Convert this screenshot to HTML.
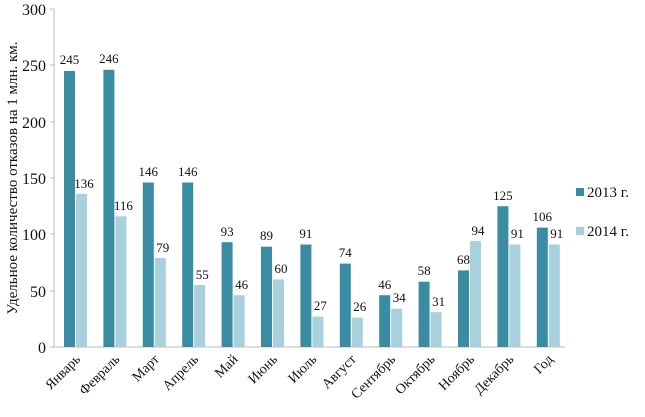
<!DOCTYPE html><html><head><style>body{margin:0;background:#fff}svg{display:block}text{font-family:"Liberation Serif",serif;fill:#111}</style></head><body>
<svg width="645" height="417" viewBox="0 0 645 417">
<line x1="54" y1="9" x2="54" y2="347" stroke="#bbb"/>
<line x1="50" y1="347" x2="565" y2="347" stroke="#bbb"/>
<g font-size="16" text-anchor="end">
<text x="46" y="353">0</text><text x="46" y="297">50</text><text x="46" y="240">100</text><text x="46" y="184">150</text><text x="46" y="128">200</text><text x="46" y="71">250</text><text x="46" y="15">300</text></g>
<g stroke="#bbb"><line x1="50" y1="291" x2="54" y2="291"/><line x1="50" y1="234" x2="54" y2="234"/><line x1="50" y1="178" x2="54" y2="178"/><line x1="50" y1="122" x2="54" y2="122"/><line x1="50" y1="65" x2="54" y2="65"/><line x1="50" y1="9" x2="54" y2="9"/></g>
<text transform="translate(17,178) rotate(-90)" font-size="15" text-anchor="middle">Удельное количество отказов на 1 млн. км.</text>
<g fill="#3a8ca3">
<rect x="64" y="71" width="11" height="276"/>
<rect x="103.4" y="69.8" width="11" height="277.2"/>
<rect x="142.8" y="182.5" width="11" height="164.5"/>
<rect x="182.2" y="182.5" width="11" height="164.5"/>
<rect x="221.6" y="242.2" width="11" height="104.8"/>
<rect x="261" y="246.7" width="11" height="100.3"/>
<rect x="300.4" y="244.5" width="11" height="102.5"/>
<rect x="339.8" y="263.6" width="11" height="83.4"/>
<rect x="379.2" y="295.2" width="11" height="51.8"/>
<rect x="418.6" y="281.7" width="11" height="65.3"/>
<rect x="458" y="270.4" width="11" height="76.6"/>
<rect x="497.4" y="206.2" width="11" height="140.8"/>
<rect x="536.8" y="227.6" width="11" height="119.4"/>
</g>
<g fill="#a8d0dd">
<rect x="76" y="193.8" width="11" height="153.2"/>
<rect x="115.4" y="216.3" width="11" height="130.7"/>
<rect x="154.8" y="258" width="11" height="89"/>
<rect x="194.2" y="285" width="11" height="62"/>
<rect x="233.6" y="295.2" width="11" height="51.8"/>
<rect x="273" y="279.4" width="11" height="67.6"/>
<rect x="312.4" y="316.6" width="11" height="30.4"/>
<rect x="351.8" y="317.7" width="11" height="29.3"/>
<rect x="391.2" y="308.7" width="11" height="38.3"/>
<rect x="430.6" y="312.1" width="11" height="34.9"/>
<rect x="470" y="241.1" width="11" height="105.9"/>
<rect x="509.4" y="244.5" width="11" height="102.5"/>
<rect x="548.8" y="244.5" width="11" height="102.5"/>
</g>
<g font-size="13" text-anchor="middle">
<text x="69.5" y="64">245</text><text x="108.9" y="63">246</text><text x="148.3" y="176">146</text><text x="187.7" y="176">146</text><text x="227.1" y="236">93</text><text x="266.5" y="240">89</text><text x="305.9" y="238">91</text><text x="345.3" y="257">74</text><text x="384.7" y="289">46</text><text x="424.1" y="275">58</text><text x="463.5" y="264">68</text><text x="502.9" y="200">125</text><text x="542.3" y="221">106</text>
<text x="84" y="188">136</text><text x="123.4" y="210">116</text><text x="162.8" y="252">79</text><text x="202.2" y="279">55</text><text x="241.6" y="289">46</text><text x="281" y="273">60</text><text x="320.4" y="310">27</text><text x="359.8" y="311">26</text><text x="399.2" y="302">34</text><text x="438.6" y="306">31</text><text x="478" y="235">94</text><text x="517.4" y="238">91</text><text x="556.8" y="238">91</text>
</g>
<g font-size="14" text-anchor="end">
<text transform="translate(81,360) rotate(-45)">Январь</text>
<text transform="translate(120.4,360) rotate(-45)">Февраль</text>
<text transform="translate(159.8,360) rotate(-45)">Март</text>
<text transform="translate(199.2,360) rotate(-45)">Апрель</text>
<text transform="translate(238.6,360) rotate(-45)">Май</text>
<text transform="translate(278,360) rotate(-45)">Июнь</text>
<text transform="translate(317.4,360) rotate(-45)">Июль</text>
<text transform="translate(356.8,360) rotate(-45)">Август</text>
<text transform="translate(396.2,360) rotate(-45)">Сентябрь</text>
<text transform="translate(435.6,360) rotate(-45)">Октябрь</text>
<text transform="translate(475,360) rotate(-45)">Ноябрь</text>
<text transform="translate(514.4,360) rotate(-45)">Декабрь</text>
<text transform="translate(553.8,360) rotate(-45)">Год</text>
</g>
<rect x="576" y="188" width="8" height="8" fill="#3a8ca3"/><text x="587" y="197" font-size="15">2013 г.</text>
<rect x="576" y="227" width="8" height="8" fill="#a8d0dd"/><text x="587" y="236" font-size="15">2014 г.</text>
</svg></body></html>
